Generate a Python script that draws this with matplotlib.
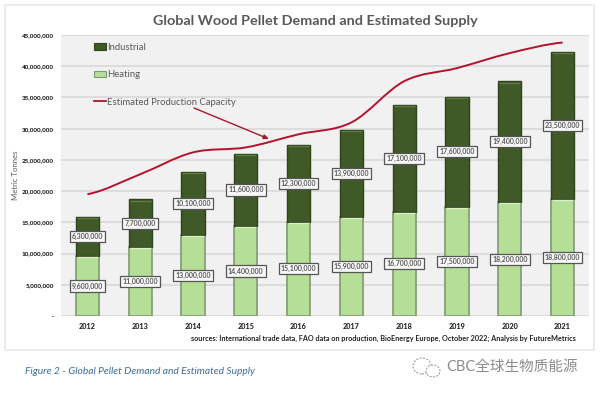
import numpy as np
import matplotlib
matplotlib.use('Agg')
import matplotlib.pyplot as plt
from matplotlib.path import Path
from matplotlib.patches import PathPatch, Rectangle, Ellipse
from matplotlib.lines import Line2D

years = ['2012', '2013', '2014', '2015', '2016', '2017', '2018', '2019', '2020', '2021']
heating = [9600000, 11000000, 13000000, 14400000, 15100000, 15900000, 16700000, 17500000, 18200000, 18800000]
industrial = [6300000, 7700000, 10100000, 11600000, 12300000, 13900000, 17100000, 17600000, 19400000, 23500000]
capacity = [19500000, 22700000, 26200000, 27000000, 29100000, 31000000, 37600000, 39700000, 42100000, 43800000]
y_ticks = [0, 5000000, 10000000, 15000000, 20000000, 25000000, 30000000, 35000000, 40000000, 45000000]

DARK = '#3f5a27'
LIGHT = '#b5de97'
GREY = '#595959'
RED = '#b5122f'

plt.rcParams['font.family'] = ['Lato', 'Noto Sans CJK SC', 'DejaVu Sans']

W, H = 600, 395
fig = plt.figure(figsize=(6, 3.95), dpi=100)


def fx(px):
    return px / W


def fy(py):
    return 1 - py / H


# page frame around the chart
fig.add_artist(Rectangle((fx(5), fy(350)), fx(589), 345 / H, transform=fig.transFigure,
                         fc='white', ec='#e8e8e8', lw=1.2, zorder=-1))

ax = fig.add_axes([fx(61), fy(316), 528 / W, 281 / H])
ax.set_facecolor('#f1f1f1')
ax.set_xlim(-0.5, 9.5)
ax.set_ylim(0, 45000000)
for s in ax.spines.values():
    s.set_visible(False)
ax.yaxis.grid(True, color='#d6d6d6', lw=1.1)
ax.set_axisbelow(True)
ax.tick_params(length=0)

x = np.arange(len(years))
heating_v = np.array(heating)
industrial_v = np.array(industrial)
ax.bar(x, heating_v, width=0.44, color=LIGHT, edgecolor='#7f9a70', lw=1.2)
ax.bar(x, industrial_v, width=0.44, bottom=heating_v, color=DARK, edgecolor='#2e431c', lw=1.0)

# lighter strip along the top of each segment
ax.hlines(heating_v - 180000, x - 0.2, x + 0.2, color='#d8f0c4', lw=1.0)
ax.hlines(heating_v + industrial_v - 220000, x - 0.2, x + 0.2, color='#5f7d42', lw=1.0)

# smooth capacity line, same look as excel's smoothed series
cap = np.array(capacity, dtype=float)
xs = x.astype(float)
verts = [(xs[0], cap[0])]
codes = [Path.MOVETO]
for i in range(len(xs) - 1):
    m0 = (cap[i + 1] - cap[max(i - 1, 0)]) / 2
    m1 = (cap[min(i + 2, len(cap) - 1)] - cap[i]) / 2
    verts += [(xs[i] + 1 / 3, cap[i] + m0 / 3), (xs[i + 1] - 1 / 3, cap[i + 1] - m1 / 3), (xs[i + 1], cap[i + 1])]
    codes += [Path.CURVE4] * 3
ax.add_patch(PathPatch(Path(verts, codes), fc='none', ec=RED, lw=1.4, zorder=4))

box = dict(boxstyle='square,pad=0.3', fc='#f8f8f8', ec='#555555', lw=0.9)
for i in range(len(years)):
    ax.text(x[i], heating_v[i] / 2, f'{heating[i]:,}', ha='center', va='center',
            fontsize=5.0, fontweight='bold', color=GREY, bbox=box, zorder=5)
    ax.text(x[i], heating_v[i] + industrial_v[i] / 2, f'{industrial[i]:,}', ha='center', va='center',
            fontsize=5.0, fontweight='bold', color=GREY, bbox=box, zorder=5)

ax.set_xticks(x)
ax.set_xticklabels(years, fontsize=5.2, fontweight='black', color='#222222')
ax.tick_params(axis='x', pad=5)
ax.set_yticks(y_ticks)
ax.set_yticklabels(['-' if v == 0 else f'{v:,}' for v in y_ticks], fontsize=4.5, fontweight='black', color='#222222')
ax.tick_params(axis='y', pad=5)

handles = [Rectangle((0, 0), 1, 1, fc=DARK, ec='#2e431c', lw=0.8),
           Rectangle((0, 0), 1, 1, fc=LIGHT, ec='#7f9a70', lw=0.8),
           Line2D([0], [0], color=RED, lw=1.3)]
ax.legend(handles, ['Industrial', 'Heating', 'Estimated Production Capacity'], loc='upper left',
          bbox_to_anchor=(31 / 528, 1 - 6 / 281), frameon=False, fontsize=6.8, labelcolor=GREY,
          handlelength=1.27, handleheight=0.7, handletextpad=0.12, labelspacing=1.95, borderpad=0.2, borderaxespad=0)

ax.annotate('', xy=(fx(269), fy(139)), xytext=(fx(194), fy(108)),
            xycoords='figure fraction', textcoords='figure fraction',
            arrowprops=dict(arrowstyle='-|>,head_width=0.13,head_length=0.3', color='#a8162c', lw=1.0,
                            shrinkA=0, shrinkB=0), zorder=6)

fig.text(fx(315), fy(21), 'Global Wood Pellet Demand and Estimated Supply', ha='center', va='center',
         fontsize=10.4, fontweight='bold', color=GREY)
fig.text(fx(15), fy(175), 'Metric Tonnes', rotation=90, ha='center', va='center', fontsize=5.6, color=GREY)
fig.text(fx(576), fy(338.5), 'sources: International trade data, FAO data on production, BioEnergy Europe, '
         'October 2022; Analysis by FutureMetrics', ha='right', va='center', fontsize=5.25, fontweight='bold',
         color='#222222')
fig.text(fx(25), fy(372), 'Figure 2 - Global Pellet Demand and Estimated Supply', ha='left', va='center',
         fontsize=7.4, style='italic', color='#3f6c96')

# watermark
fig.text(fx(446), fy(367), 'CBC全球生物质能源', ha='left', va='center', fontsize=10.5, color='#8c8c8c')
for cx, cy, a, b in [(422, 366, 9, 8), (433, 371, 7, 6)]:
    fig.add_artist(Ellipse((fx(cx), fy(cy)), 2 * a / W, 2 * b / H, transform=fig.transFigure,
                           fc='white', ec='#8c8c8c', lw=0.7, ls=(0, (2, 1.5))))

fig.savefig('out.png', dpi=100)
